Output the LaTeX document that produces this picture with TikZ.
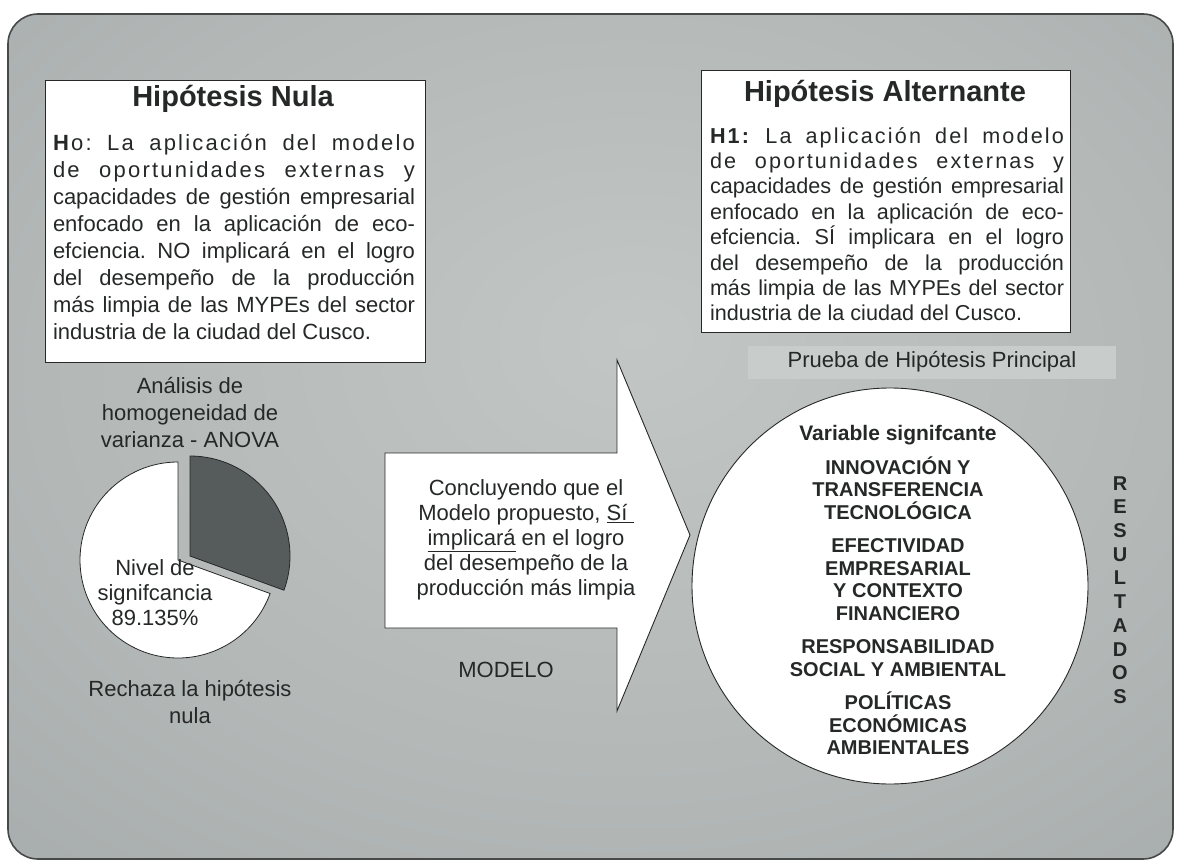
\documentclass[tikz,border=0pt]{standalone}
\usepackage{fontspec}
\setmainfont{Liberation Sans}
\definecolor{fondoin}{RGB}{194,198,197}
\definecolor{fondoout}{RGB}{140,148,147}
\definecolor{tinta}{RGB}{38,40,40}
\definecolor{franja}{RGB}{200,204,203}
\definecolor{sector}{RGB}{86,92,91}
\pgfdeclareradialshading{fondo}{\pgfpoint{2bp}{6bp}}{color(0bp)=(fondoin); color(25bp)=(fondoin!72!fondoout); color(72bp)=(fondoout)}
\newcommand{\espaciada}[1]{{\addfontfeature{LetterSpace=10}#1}}
\frenchspacing

\begin{document}
\begin{tikzpicture}[x=1pt,y=-1pt,
  caja/.style={draw=tinta,fill=white,line width=0.9pt,inner sep=0pt},
  titulo/.style={font=\bfseries\fontsize{29}{34}\selectfont,text=tinta,inner sep=0pt},
  cuerpo/.style={font=\fontsize{22}{27}\selectfont,text=tinta,align=justify,inner sep=0pt},
  etiq/.style={font=\fontsize{22}{27}\selectfont,text=tinta,align=center,inner sep=0pt},
  mayus/.style={font=\bfseries\fontsize{20}{22.5}\selectfont,text=tinta,align=center,inner sep=0pt},
  pastel/.style={draw=tinta,line width=0.8pt}]
  \useasboundingbox (0,0) rectangle (1179,864);
  \path[draw=tinta!85,line width=1.6pt,rounded corners=30pt,shading=fondo] (8,14) rectangle (1173,859);

  \node[caja,minimum width=380pt,minimum height=282pt] (nula) at (235,221) {};
  \node[titulo] (tnula) at (233,99) {Hipótesis Nula};
  \node[cuerpo,text width=362pt,anchor=north] (hnula) at (234,134) {\espaciada{\textbf{H}o: La aplicación del modelo}\linebreak
    \espaciada{de oportunidades externas y}\linebreak
    capacidades de gestión empresarial\linebreak
    enfocado en la aplicación de eco-\linebreak
    efciencia. NO implicará en el logro\linebreak
    del desempeño de la producción\linebreak
    más limpia de las MYPEs del sector\linebreak
    industria de la ciudad del Cusco.};

  \node[caja,minimum width=369pt,minimum height=262pt] (alterna) at (885.5,201) {};
  \node[titulo] (talterna) at (885,94) {Hipótesis Alternante};
  \node[cuerpo,font=\fontsize{21.6}{25.4}\selectfont,text width=354pt,anchor=north] (halterna) at (887,127) {\espaciada{\textbf{H1:} La aplicación del modelo}\linebreak
    \espaciada{de oportunidades externas y}\linebreak
    capacidades de gestión empresarial\linebreak
    enfocado en la aplicación de eco-\linebreak
    efciencia. SÍ implicara en el logro\linebreak
    del desempeño de la producción\linebreak
    más limpia de las MYPEs del sector\linebreak
    industria de la ciudad del Cusco.};

  \node[etiq,fill=franja,minimum width=368pt,minimum height=33pt] (prueba) at (932,362) {Prueba de Hipótesis Principal};

  \node[etiq] (anova) at (190,413) {Análisis de\\homogeneidad de\\varianza - ANOVA};
  \draw[pastel,fill=white] (178,560) -- ++(-90:98) arc[start angle=-90,end angle=-340,radius=98] -- cycle;
  \draw[pastel,fill=sector] (190,556) -- ++(20:100) arc[start angle=20,end angle=-90,radius=100] -- cycle;
  \node[etiq,font=\fontsize{22}{25}\selectfont] (nivel) at (155,593) {Nivel de\\signifcancia\\89.135\%};
  \node[etiq] (rechaza) at (190,702) {Rechaza la hipótesis\\nula};

  \draw[draw=tinta,fill=white,line width=0.9pt] (385,453) -- (617,453) -- (617,360) -- (690,535) -- (617,711) -- (617,628) -- (385,628) -- cycle;
  \node[etiq,font=\fontsize{22}{25}\selectfont] (concluye) at (526,540) {Concluyendo que el\\Modelo propuesto, \underline{Sí\ }\\\underline{implicará} en el logro\\del desempeño de la\\producción más limpia};
  \node[etiq] (modelo) at (506,670) {MODELO};

  \node[caja,circle,minimum size=396pt] (circulo) at (890,586) {};
  \node[mayus] (variables) at (898,590) {{\fontsize{21}{22.5}\selectfont Variable signifcante}\\[11pt]
    INNOVACIÓN Y\\TRANSFERENCIA\\TECNOLÓGICA\\[11pt]
    EFECTIVIDAD\\EMPRESARIAL\\Y CONTEXTO\\FINANCIERO\\[11pt]
    RESPONSABILIDAD\\SOCIAL Y AMBIENTAL\\[11pt]
    POLÍTICAS\\ECONÓMICAS\\AMBIENTALES};
  \node[mayus,font=\bfseries\fontsize{20}{23.7}\selectfont] (resultados) at (1120,590) {R\\E\\S\\U\\L\\T\\A\\D\\O\\S};
\end{tikzpicture}
\end{document}
